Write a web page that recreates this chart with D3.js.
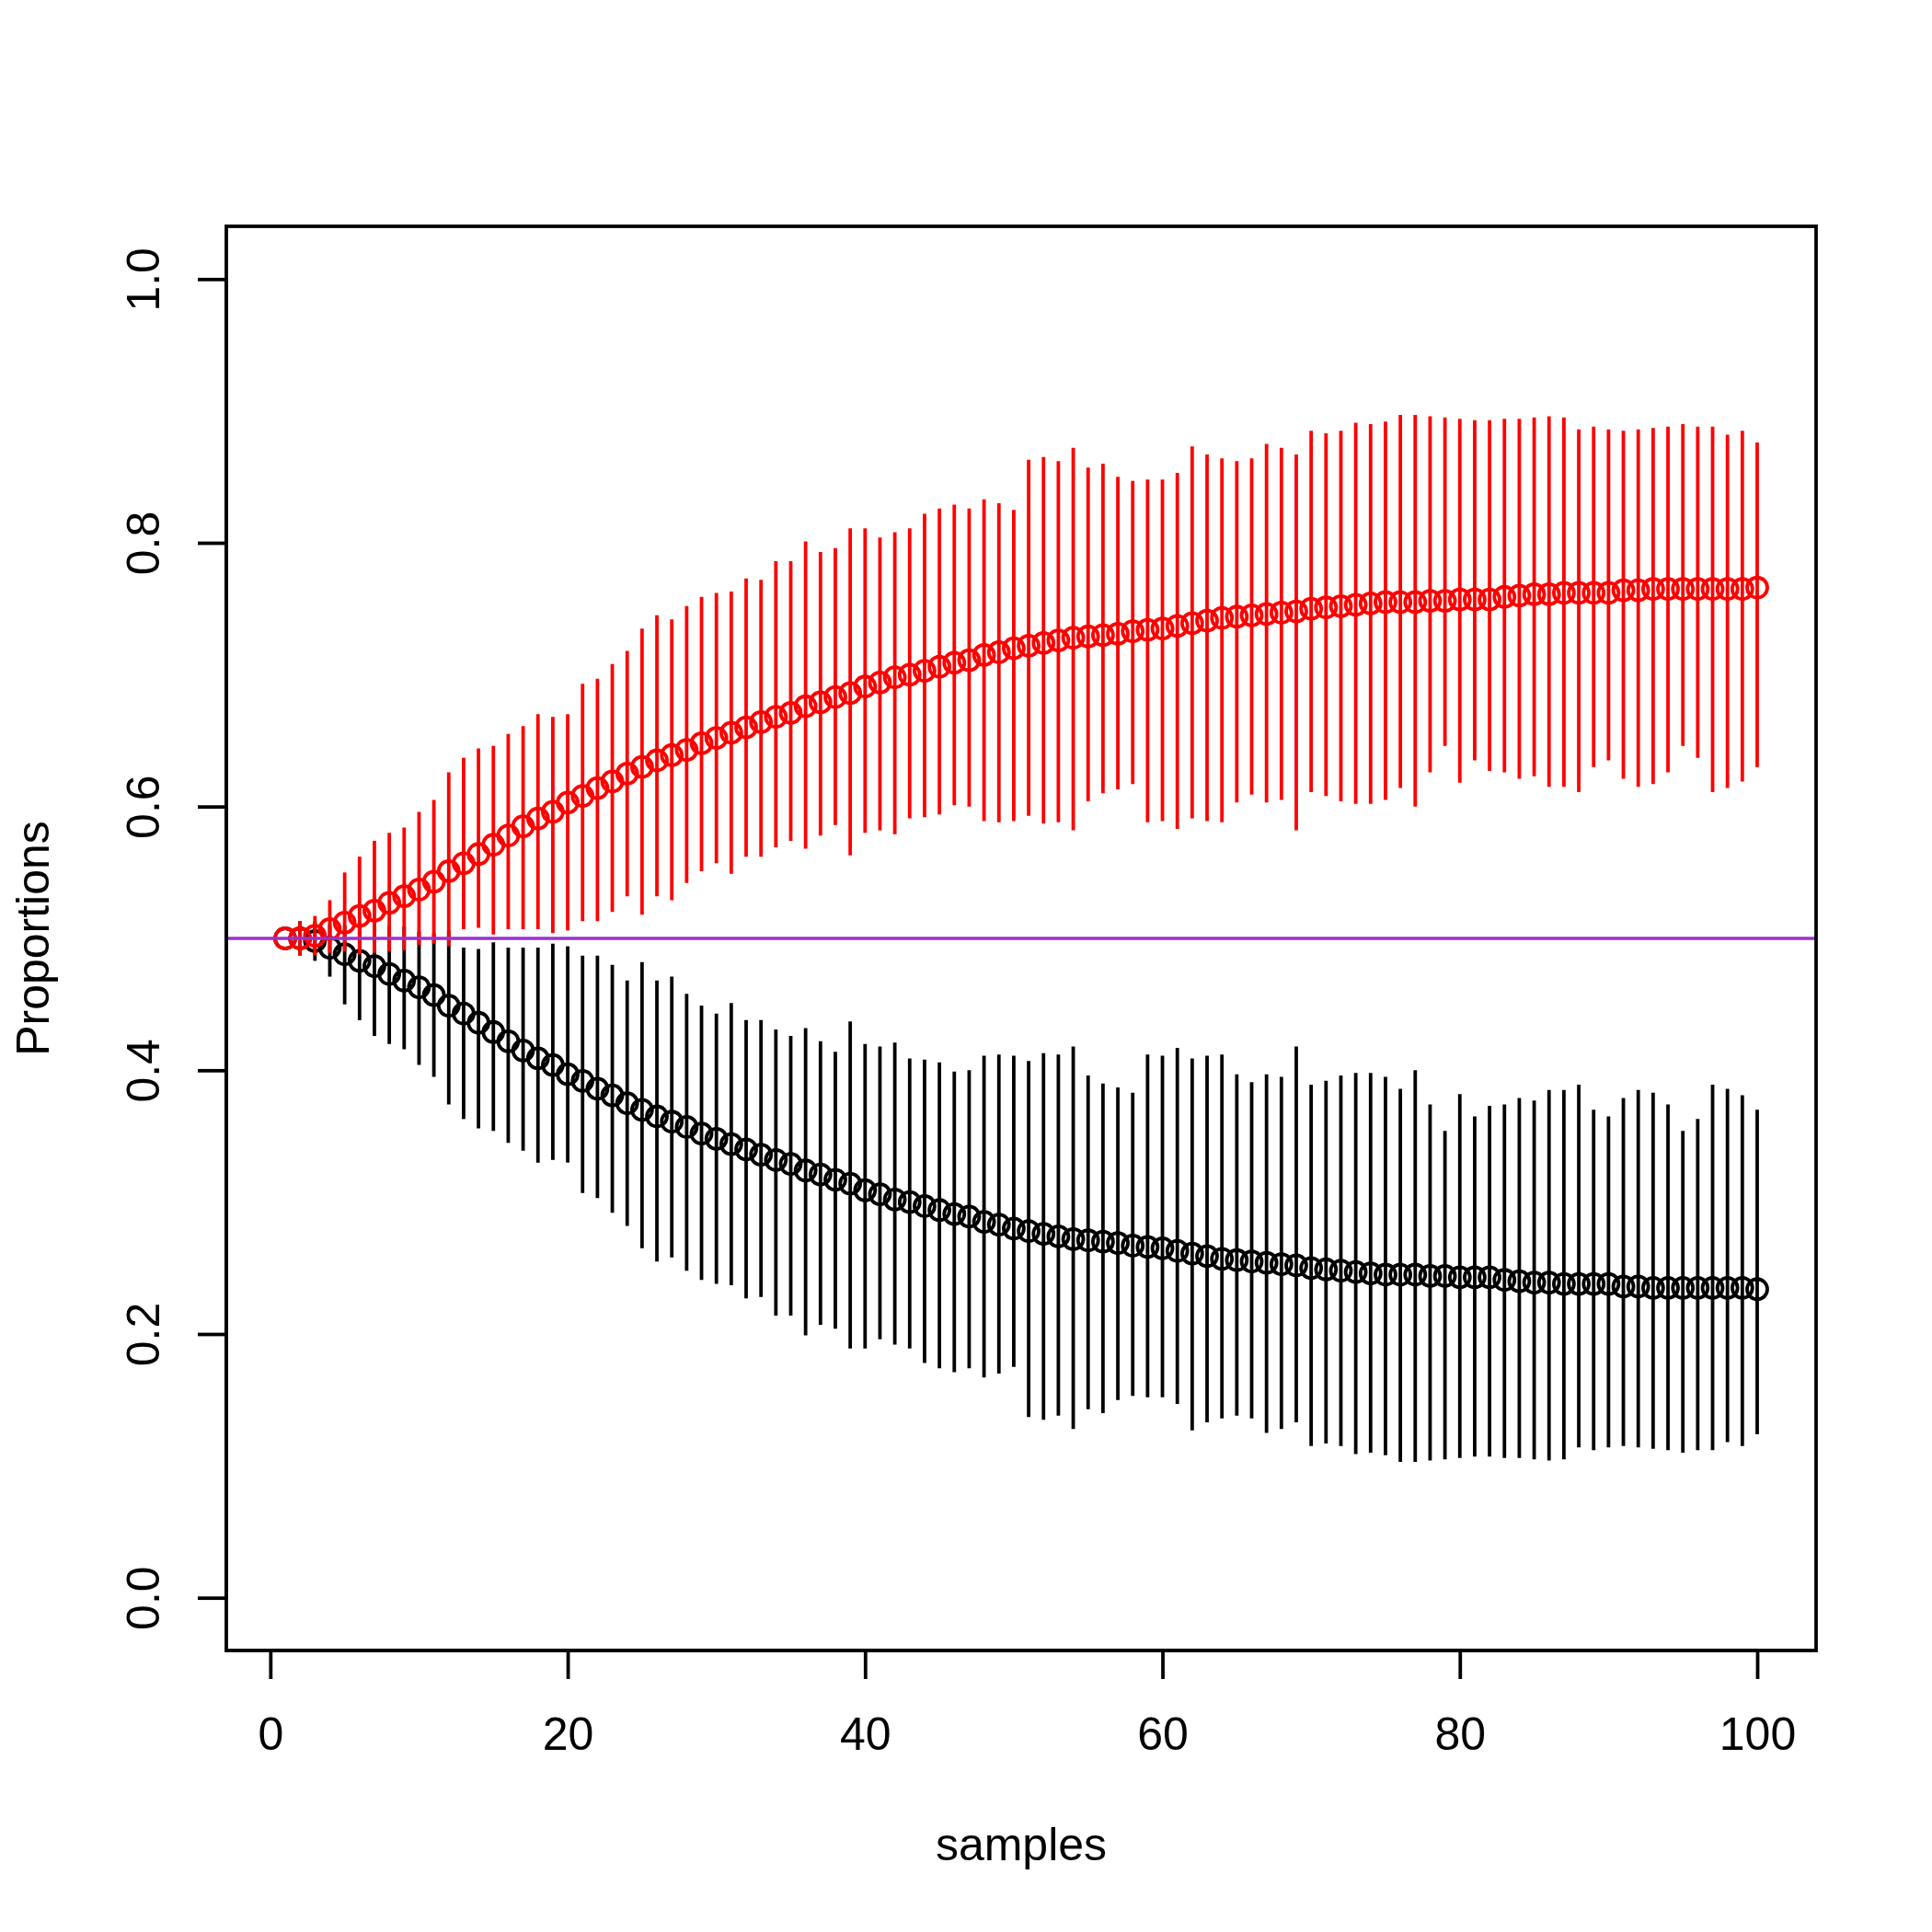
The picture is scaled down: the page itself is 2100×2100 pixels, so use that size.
<!DOCTYPE html>
<html>
<head>
<meta charset="utf-8">
<script src="https://cdn.jsdelivr.net/npm/d3@7"></script>
<style>
  body { margin: 0; background: #fff; }
  text { font-family: "Liberation Sans", Arial, sans-serif; fill: #000; }
</style>
</head>
<body>
<div id="chart"></div>
<script>
// sample index (x)
const samples = d3.range(1, 101);

// red series: mean proportion with lower / upper interval
const redMean = [
  0.500,0.500,0.502,0.507,0.512,0.517,0.521,0.527,0.532,0.537,
  0.543,0.551,0.557,0.564,0.571,0.578,0.585,0.591,0.596,0.603,
  0.608,0.614,0.619,0.625,0.630,0.635,0.639,0.643,0.648,0.652,
  0.656,0.660,0.664,0.668,0.671,0.676,0.679,0.683,0.686,0.691,
  0.694,0.698,0.700,0.703,0.706,0.709,0.711,0.715,0.717,0.720,
  0.722,0.724,0.726,0.728,0.729,0.730,0.731,0.733,0.734,0.735,
  0.737,0.739,0.741,0.743,0.744,0.745,0.746,0.747,0.748,0.750,
  0.751,0.752,0.753,0.754,0.755,0.755,0.755,0.756,0.756,0.757,
  0.757,0.757,0.759,0.760,0.761,0.761,0.762,0.762,0.762,0.762,
  0.764,0.764,0.765,0.765,0.765,0.765,0.765,0.765,0.765,0.766
];
const redLo = [
  0.500,0.487,0.487,0.489,0.490,0.488,0.489,0.490,0.491,0.495,
  0.496,0.494,0.507,0.508,0.503,0.507,0.507,0.507,0.504,0.506,
  0.513,0.513,0.520,0.532,0.518,0.532,0.529,0.542,0.551,0.557,
  0.549,0.562,0.562,0.569,0.574,0.568,0.578,0.586,0.563,0.580,
  0.582,0.579,0.591,0.592,0.594,0.601,0.600,0.589,0.588,0.589,
  0.593,0.587,0.588,0.582,0.604,0.610,0.613,0.617,0.588,0.589,
  0.583,0.591,0.589,0.588,0.603,0.609,0.603,0.605,0.582,0.611,
  0.608,0.604,0.602,0.602,0.605,0.614,0.600,0.626,0.646,0.618,
  0.635,0.627,0.626,0.621,0.623,0.615,0.615,0.611,0.630,0.635,
  0.621,0.615,0.617,0.626,0.646,0.637,0.611,0.614,0.619,0.630
];
const redHi = [
  0.500,0.513,0.517,0.529,0.550,0.562,0.574,0.580,0.584,0.596,
  0.605,0.626,0.637,0.644,0.646,0.655,0.661,0.670,0.668,0.670,
  0.693,0.697,0.708,0.718,0.735,0.745,0.742,0.752,0.759,0.762,
  0.763,0.773,0.772,0.786,0.786,0.801,0.793,0.796,0.811,0.811,
  0.804,0.808,0.811,0.822,0.826,0.829,0.826,0.833,0.830,0.825,
  0.863,0.865,0.862,0.872,0.857,0.860,0.850,0.847,0.848,0.848,
  0.853,0.873,0.867,0.864,0.862,0.864,0.875,0.872,0.867,0.885,
  0.883,0.885,0.891,0.890,0.892,0.897,0.897,0.896,0.895,0.894,
  0.893,0.893,0.894,0.894,0.895,0.896,0.895,0.886,0.888,0.886,
  0.885,0.886,0.887,0.888,0.890,0.888,0.888,0.882,0.885,0.876
];

// black series: mean proportion with lower / upper interval
const blackMean = [
  0.500,0.500,0.498,0.493,0.488,0.483,0.479,0.473,0.468,0.463,
  0.457,0.449,0.443,0.436,0.429,0.422,0.415,0.409,0.404,0.397,
  0.392,0.386,0.381,0.375,0.370,0.365,0.361,0.357,0.352,0.348,
  0.344,0.340,0.336,0.332,0.329,0.324,0.321,0.317,0.314,0.309,
  0.306,0.302,0.300,0.297,0.294,0.291,0.289,0.285,0.283,0.280,
  0.278,0.276,0.274,0.272,0.271,0.270,0.269,0.267,0.266,0.265,
  0.263,0.261,0.259,0.257,0.256,0.255,0.254,0.253,0.252,0.250,
  0.249,0.248,0.247,0.246,0.245,0.245,0.245,0.244,0.244,0.243,
  0.243,0.243,0.241,0.240,0.239,0.239,0.238,0.238,0.238,0.238,
  0.236,0.236,0.235,0.235,0.235,0.235,0.235,0.235,0.235,0.234
];
const blackLo = [
  0.500,0.487,0.483,0.471,0.450,0.438,0.426,0.420,0.416,0.404,
  0.395,0.374,0.363,0.356,0.354,0.345,0.339,0.330,0.332,0.330,
  0.307,0.303,0.292,0.282,0.265,0.255,0.258,0.248,0.241,0.238,
  0.237,0.227,0.228,0.214,0.214,0.199,0.207,0.204,0.189,0.189,
  0.196,0.192,0.189,0.178,0.174,0.171,0.174,0.167,0.170,0.175,
  0.137,0.135,0.138,0.128,0.143,0.140,0.150,0.153,0.152,0.152,
  0.147,0.127,0.133,0.136,0.138,0.136,0.125,0.128,0.133,0.115,
  0.117,0.115,0.109,0.110,0.108,0.103,0.103,0.104,0.105,0.106,
  0.107,0.107,0.106,0.106,0.105,0.104,0.105,0.114,0.112,0.114,
  0.115,0.114,0.113,0.112,0.110,0.112,0.112,0.118,0.115,0.124
];
const blackHi = [
  0.500,0.513,0.513,0.511,0.510,0.512,0.511,0.510,0.509,0.505,
  0.504,0.506,0.493,0.492,0.497,0.493,0.493,0.493,0.496,0.494,
  0.487,0.487,0.480,0.468,0.482,0.468,0.471,0.458,0.449,0.443,
  0.451,0.438,0.438,0.431,0.426,0.432,0.422,0.414,0.437,0.420,
  0.418,0.421,0.409,0.408,0.406,0.399,0.400,0.411,0.412,0.411,
  0.407,0.413,0.412,0.418,0.396,0.390,0.387,0.383,0.412,0.411,
  0.417,0.409,0.411,0.412,0.397,0.391,0.397,0.395,0.418,0.389,
  0.392,0.396,0.398,0.398,0.395,0.386,0.400,0.374,0.354,0.382,
  0.365,0.373,0.374,0.379,0.377,0.385,0.385,0.389,0.370,0.365,
  0.379,0.385,0.383,0.374,0.354,0.363,0.389,0.386,0.381,0.370
];

// axis ticks and reference line
const xTicks = [0, 20, 40, 60, 80, 100];
const yTicks = [0, 0.2, 0.4, 0.6, 0.8, 1.0];
const refLine = 0.5;

const W = 2100, H = 2100;
const mLeft = 246, mRight = 1974, mTop = 246, mBottom = 1794;
const lw = 3.8;

const svg = d3.select('#chart').append('svg')
  .attr('width', W).attr('height', H)
  .style('background', '#fff');

// R style ranges (4% padding)
const x = d3.scaleLinear().domain([1 - 0.04 * 99, 100 + 0.04 * 99]).range([mLeft, mRight]);
const y = d3.scaleLinear().domain([-0.04, 1.04]).range([mBottom, mTop]);

svg.append('clipPath').attr('id', 'plotclip')
  .append('rect').attr('x', mLeft).attr('y', mTop)
  .attr('width', mRight - mLeft).attr('height', mBottom - mTop);

const plot = svg.append('g').attr('clip-path', 'url(#plotclip)');

function drawSeries(mean, lo, hi, color) {
  plot.append('g').selectAll('circle')
    .data(samples)
    .enter().append('circle')
    .attr('cx', d => x(d))
    .attr('cy', (d, i) => y(mean[i]))
    .attr('r', 11)
    .attr('fill', 'none')
    .attr('stroke', color)
    .attr('stroke-width', lw);

  plot.append('g').selectAll('line')
    .data(samples)
    .enter().append('line')
    .attr('x1', d => x(d)).attr('x2', d => x(d))
    .attr('y1', (d, i) => y(lo[i]))
    .attr('y2', (d, i) => y(hi[i]))
    .attr('stroke', color)
    .attr('stroke-width', lw);
}

drawSeries(blackMean, blackLo, blackHi, '#000');
drawSeries(redMean, redLo, redHi, '#ff0000');

// horizontal reference line
plot.append('line')
  .attr('x1', mLeft).attr('x2', mRight)
  .attr('y1', y(refLine)).attr('y2', y(refLine))
  .attr('stroke', '#9932cc')
  .attr('stroke-width', 3.5);

// box
svg.append('rect')
  .attr('x', mLeft).attr('y', mTop)
  .attr('width', mRight - mLeft).attr('height', mBottom - mTop)
  .attr('fill', 'none').attr('stroke', '#000').attr('stroke-width', lw);

// x axis
const xAxis = svg.append('g')
  .attr('transform', `translate(0,${mBottom})`)
  .call(d3.axisBottom(x).tickValues(xTicks).tickSize(31).tickSizeOuter(0).tickFormat(d3.format('d')));
xAxis.select('.domain')
  .attr('d', `M${x(xTicks[0])},0H${x(xTicks[xTicks.length - 1])}`)
  .attr('stroke-width', lw);
xAxis.selectAll('.tick line').attr('stroke-width', lw);
xAxis.selectAll('.tick text')
  .attr('y', 108).attr('dy', null)
  .style('font-size', '50px')
  .style('font-family', '"Liberation Sans", Arial, sans-serif');

// y axis
const yAxis = svg.append('g')
  .attr('transform', `translate(${mLeft},0)`)
  .call(d3.axisLeft(y).tickValues(yTicks).tickSize(31).tickSizeOuter(0).tickFormat(d3.format('.1f')));
yAxis.select('.domain')
  .attr('d', `M0,${y(yTicks[0])}V${y(yTicks[yTicks.length - 1])}`)
  .attr('stroke-width', lw);
yAxis.selectAll('.tick line').attr('stroke-width', lw);
yAxis.selectAll('.tick text')
  .attr('x', null).attr('dy', null)
  .attr('transform', 'translate(-73,0) rotate(-90)')
  .attr('text-anchor', 'middle')
  .style('font-size', '50px')
  .style('font-family', '"Liberation Sans", Arial, sans-serif');

// axis titles
svg.append('text')
  .attr('x', (mLeft + mRight) / 2).attr('y', 2022)
  .attr('text-anchor', 'middle')
  .style('font-size', '50px')
  .text('samples');

svg.append('text')
  .attr('transform', `translate(53,${(mTop + mBottom) / 2}) rotate(-90)`)
  .attr('text-anchor', 'middle')
  .style('font-size', '50px')
  .text('Proportions');
</script>
</body>
</html>
